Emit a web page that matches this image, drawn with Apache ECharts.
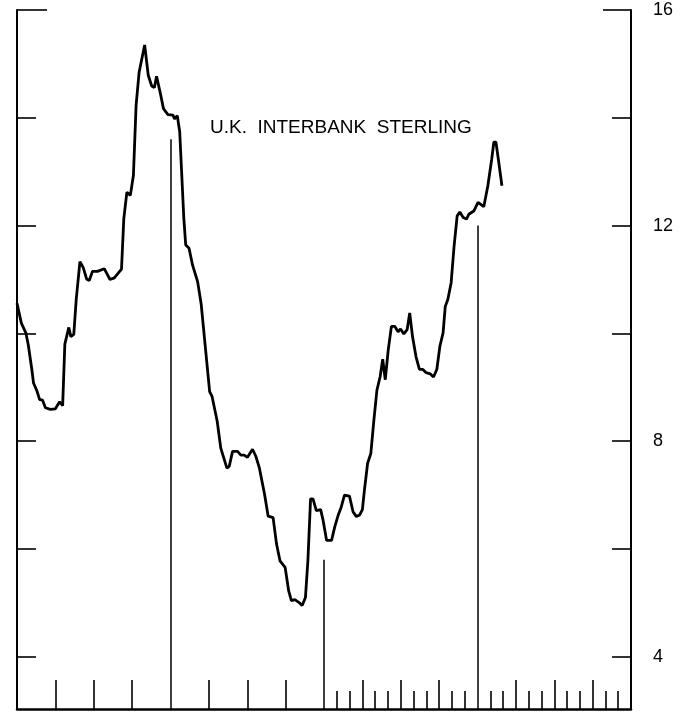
<!DOCTYPE html>
<html>
<head>
<meta charset="utf-8">
<script src="https://cdn.jsdelivr.net/npm/echarts@6/dist/echarts.min.js"></script>
<style>
  html, body { margin: 0; padding: 0; background: #fff; }
  #chart { width: 694px; height: 713px; }
</style>
</head>
<body>
<div id="chart"></div>
<script>
// position along the time axis, in months from the start of the first year
const months = [
  0.00, 0.34, 0.69, 0.88, 1.16, 1.29, 1.56, 1.77, 2.00, 2.22, 2.61, 3.00, 3.33, 3.57,
  3.74, 4.05, 4.21, 4.44, 4.63, 4.92, 5.18, 5.44, 5.65, 5.90, 6.29, 6.82, 7.27, 7.61,
  8.17, 8.35, 8.59, 8.86, 9.10, 9.31, 9.55, 9.98, 10.26, 10.53, 10.74, 10.91, 11.21, 11.45,
  11.80, 12.19, 12.32, 12.53, 12.72, 13.04, 13.19, 13.45, 13.72, 14.12, 14.40, 14.68, 15.06, 15.25,
  15.65, 15.93, 16.41, 16.59, 16.85, 17.24, 17.50, 17.76, 18.02, 18.41, 18.67, 18.94, 19.35, 19.63,
  20.02, 20.29, 20.56, 20.96, 21.24, 21.45, 21.72, 22.03, 22.29, 22.55, 22.74, 22.95, 23.14, 23.40,
  23.74, 23.93, 24.20, 24.59, 24.84, 25.10, 25.35, 25.60, 25.99, 26.27, 26.53, 26.79, 27.00, 27.16,
  27.41, 27.66, 27.90, 28.14, 28.39, 28.59, 28.79, 29.02, 29.27, 29.53, 29.79, 29.98, 30.24, 30.50,
  30.70, 30.92, 31.19, 31.46, 31.73, 31.99, 32.30, 32.56, 32.82, 33.06, 33.31, 33.48, 33.68, 33.94,
  34.17, 34.41, 34.62, 34.88, 35.14, 35.32, 35.71, 36.04, 36.49, 36.81, 37.11, 37.28, 37.44, 37.63,
  37.91
];

// interbank sterling rate, percent
const rates = [
  10.56, 10.19, 10.01, 9.79, 9.33, 9.08, 8.93, 8.77, 8.76, 8.62, 8.59, 8.60, 8.73, 8.66,
  9.80, 10.11, 9.94, 9.98, 10.63, 11.33, 11.22, 11.01, 10.98, 11.15, 11.15, 11.20, 11.00, 11.03,
  11.19, 12.13, 12.62, 12.56, 12.93, 14.23, 14.85, 15.35, 14.79, 14.59, 14.56, 14.77, 14.45, 14.17,
  14.06, 14.05, 13.98, 14.04, 13.74, 12.14, 11.64, 11.58, 11.27, 10.96, 10.54, 9.85, 8.92, 8.83,
  8.37, 7.87, 7.50, 7.53, 7.81, 7.81, 7.74, 7.74, 7.70, 7.85, 7.72, 7.51, 7.02, 6.61,
  6.58, 6.09, 5.78, 5.66, 5.22, 5.04, 5.06, 5.01, 4.95, 5.10, 5.78, 6.93, 6.93, 6.71,
  6.73, 6.53, 6.16, 6.16, 6.41, 6.62, 6.78, 7.00, 6.98, 6.69, 6.60, 6.63, 6.73, 7.09,
  7.59, 7.77, 8.39, 8.95, 9.20, 9.52, 9.14, 9.69, 10.13, 10.13, 10.03, 10.08, 9.99, 10.07,
  10.38, 9.94, 9.57, 9.33, 9.33, 9.27, 9.25, 9.19, 9.33, 9.76, 10.01, 10.50, 10.63, 10.94,
  11.62, 12.18, 12.25, 12.15, 12.12, 12.21, 12.27, 12.43, 12.35, 12.74, 13.23, 13.55, 13.55, 13.23,
  12.74
];

// year boundaries and the height their rules reach
const yearMonths = [12, 24, 36];
const yearTops = [13.6, 5.8, 12.0];

// bottom ticks: quarters (long) and single months (short)
const quarterTicks = [3, 6, 9, 15, 18, 21, 27, 30, 33, 39, 42, 45];
const monthTicks = [25, 26, 28, 29, 31, 32, 34, 35, 37, 38, 40, 41, 43, 44, 46, 47];

// vertical scale
const yMin = 3.03;
const yMax = 16;
const sideTicks = [4, 6, 8, 10, 12, 14];
const topTicks = [16];
const rightLabels = [4, 8, 12, 16];

const chart = echarts.init(document.getElementById('chart'));

const tickStyle = {color: '#000', width: 1.6};

const yAxisBase = (pos, ticks, len, showLine, labels) => ({
  type: 'value',
  position: pos,
  min: yMin,
  max: yMax,
  axisLine: {show: showLine, onZero: false, lineStyle: {color: '#000', width: 2}},
  axisTick: {show: true, inside: true, length: len, customValues: ticks, lineStyle: tickStyle},
  axisLabel: labels ? {
    show: true,
    customValues: labels,
    margin: 22,
    color: '#000',
    fontSize: 18,
    fontFamily: 'Liberation Sans, Arial, sans-serif'
  } : {show: false},
  splitLine: {show: false}
});

chart.setOption({
  animation: false,
  backgroundColor: '#fff',
  grid: {left: 17, right: 63, top: 10, bottom: 4},
  xAxis: [
    {
      type: 'value', position: 'bottom', min: 0, max: 48,
      axisLine: {onZero: false, lineStyle: {color: '#000', width: 2.5}},
      axisTick: {inside: true, length: 29, customValues: quarterTicks, lineStyle: tickStyle},
      axisLabel: {show: false},
      splitLine: {show: false}
    },
    {
      type: 'value', position: 'bottom', min: 0, max: 48,
      axisLine: {show: false, onZero: false},
      axisTick: {inside: true, length: 18, customValues: monthTicks, lineStyle: tickStyle},
      axisLabel: {show: false},
      splitLine: {show: false}
    }
  ],
  yAxis: [
    yAxisBase('left', sideTicks, 19, true, null),
    yAxisBase('right', sideTicks, 19, true, rightLabels),
    yAxisBase('left', topTicks, 30, false, null),
    yAxisBase('right', topTicks, 28, false, null)
  ],
  graphic: [{
    type: 'text',
    x: 210,
    y: 128,
    style: {
      text: 'U.K.  INTERBANK  STERLING',
      fill: '#000',
      font: '19px "Liberation Sans", Arial, sans-serif',
      textAlign: 'left',
      textVerticalAlign: 'middle'
    }
  }],
  series: [{
    type: 'line',
    xAxisIndex: 0,
    yAxisIndex: 0,
    data: months.map((m, i) => [m, rates[i]]),
    showSymbol: false,
    smooth: false,
    lineStyle: {color: '#000', width: 2.8},
    markLine: {
      silent: true,
      symbol: ['none', 'none'],
      label: {show: false},
      lineStyle: {type: 'solid', color: '#000', width: 1.5},
      data: yearMonths.map((m, i) => [{coord: [m, yMin]}, {coord: [m, yearTops[i]]}])
    }
  }]
});
</script>
</body>
</html>
